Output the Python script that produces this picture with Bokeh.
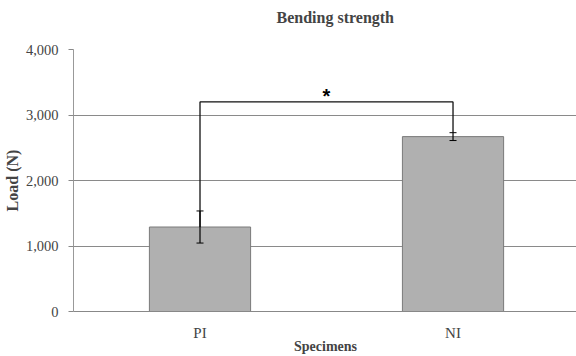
from bokeh.plotting import figure
from bokeh.models import Range1d, FixedTicker, NumeralTickFormatter, Whisker, ColumnDataSource
from bokeh.embed import file_html
from bokeh.resources import INLINE

specimens = ["PI", "NI"]
load = [1290, 2670]
sd = [245, 60]
y_ticks = [0, 1000, 2000, 3000, 4000]
bracket_level = 3200
sig_mark = "*"
chart_title = "Bending strength"

xs = [i + 1 for i in range(len(specimens))]
src = ColumnDataSource(dict(
    x=xs, top=load,
    upper=[l + s for l, s in zip(load, sd)],
    lower=[l - s for l, s in zip(load, sd)],
))

FONT = "Liberation Serif"

p = figure(frame_width=504, frame_height=262, output_backend="svg", toolbar_location=None,
           x_range=Range1d(0.5, 2.492), y_range=Range1d(0, 4000),
           min_border_left=72, min_border_right=0, min_border_top=49, min_border_bottom=0)
p.outline_line_color = None
p.background_fill_color = "white"
p.border_fill_color = "white"

# an empty second line lifts the title towards the top of the page
p.title.text = chart_title + "\n "
p.title.align = "left"
p.title.text_font = FONT
p.title.text_font_size = "16px"
p.title.text_font_style = "bold"
p.title.offset = 203
p.title.vertical_align = "top"
p.title.standoff = 10

p.vbar(x="x", top="top", width=0.4, bottom=0, source=src,
       fill_color="#b0b0b0", line_color="#7a7a7a", line_width=1)

w = Whisker(base="x", upper="upper", lower="lower", source=src,
            line_color="black", line_width=1.2, level="overlay")
w.upper_head.size = 7
w.lower_head.size = 7
w.upper_head.line_color = "black"
w.lower_head.line_color = "black"
p.add_layout(w)

# significance bracket
bx = [xs[0], xs[0], xs[1], xs[1]]
by = [load[0], bracket_level, bracket_level, load[1] + sd[1]]
p.line(bx, by, line_color="#111111", line_width=1.3)
p.text(x=[(xs[0] + xs[1]) / 2], y=[bracket_level], text=[sig_mark],
       text_align="center", text_baseline="bottom", text_font_size="20px",
       text_font_style="bold", text_color="black", y_offset=5)

# axes
p.yaxis.ticker = FixedTicker(ticks=y_ticks)
p.yaxis.formatter = NumeralTickFormatter(format="0,0")
p.yaxis.axis_label = "Load (N)"
p.yaxis.axis_label_text_font = FONT
p.yaxis.axis_label_text_font_style = "bold"
p.yaxis.axis_label_text_font_size = "16px"
p.yaxis.axis_label_standoff = 2
p.yaxis.major_label_text_font = FONT
p.yaxis.major_label_text_font_size = "14.5px"
p.yaxis.axis_line_color = "#999999"
p.yaxis.major_tick_line_color = "#888888"
p.yaxis.major_tick_out = 5
p.yaxis.major_tick_in = 0
p.yaxis.minor_tick_line_color = None
p.yaxis.major_label_standoff = 10

p.xaxis.ticker = FixedTicker(ticks=xs)
p.xaxis.major_label_overrides = {x: s for x, s in zip(xs, specimens)}
p.xaxis.axis_label = "Specimens"
p.xaxis.axis_label_text_font = FONT
p.xaxis.axis_label_text_font_style = "bold"
p.xaxis.axis_label_text_font_size = "14px"
p.xaxis.major_label_text_font = FONT
p.xaxis.major_label_text_font_size = "15px"
p.xaxis.axis_line_color = "#888888"
p.xaxis.major_tick_line_color = None
p.xaxis.major_tick_out = 0
p.xaxis.major_tick_in = 0
p.xaxis.minor_tick_line_color = None
p.xaxis.major_label_standoff = 13
p.xaxis.axis_label_standoff = -5

p.xgrid.grid_line_color = None
p.ygrid.grid_line_color = "#8a8a8a"
p.ygrid.grid_line_width = 1

open("out.html", "w").write(file_html(p, INLINE))
